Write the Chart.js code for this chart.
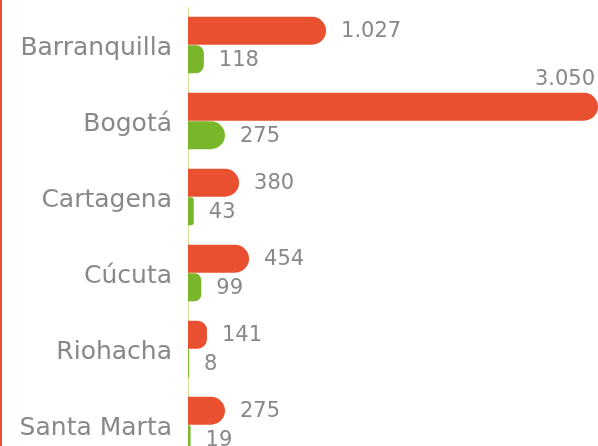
<!DOCTYPE html>
<html>
<head>
<meta charset="utf-8">
<script src="https://cdn.jsdelivr.net/npm/chart.js@4.4.1/dist/chart.umd.min.js"></script>
<style>
    html, body { margin: 0; padding: 0; background: #fff; }
    #wrap { position: relative; width: 598px; height: 446px; overflow: hidden; }
    #edge { position: absolute; left: 0; top: 0; width: 2px; height: 446px; background: #e9502f; z-index: 2; }
    #box { position: absolute; left: 0; top: 0; width: 598px; height: 463px; }
</style>
</head>
<body>
<div id="wrap">
    <div id="edge"></div>
    <div id="box"><canvas id="chart"></canvas></div>
</div>
<script>
// Datos por ciudad
const ciudades = ['Barranquilla', 'Bogotá', 'Cartagena', 'Cúcuta', 'Riohacha', 'Santa Marta'];
const serieRoja = [1027, 3050, 380, 454, 141, 275];
const serieVerde = [118, 275, 43, 99, 8, 19];

const ROJO = '#e9502f';
const VERDE = '#7ab62a';
const GRIS = '#888888';
const FUENTE = "'DejaVu Sans', sans-serif";

// separador de miles con punto
function formato(v) {
    return String(v).replace(/\B(?=(\d{3})+(?!\d))/g, '.');
}

// Etiquetas de valor al final de cada barra
const etiquetas = {
    id: 'etiquetas',
    afterDatasetsDraw(chart) {
        const ctx = chart.ctx;
        const xs = chart.scales.x;
        ctx.save();
        ctx.font = '21px ' + FUENTE;
        ctx.fillStyle = GRIS;
        chart.data.datasets.forEach((ds, i) => {
            chart.getDatasetMeta(i).data.forEach((bar, j) => {
                const txt = formato(ds.data[j]);
                const w = ctx.measureText(txt).width;
                let x = xs.getPixelForValue(ds.data[j]) + 15;
                if (x + w > chart.width) {
                    // no cabe: encima de la barra, alineado a la derecha
                    ctx.textAlign = 'right';
                    ctx.textBaseline = 'alphabetic';
                    ctx.fillText(txt, chart.width - 3, bar.y - bar.height / 2 - 8);
                } else {
                    ctx.textAlign = 'left';
                    ctx.textBaseline = 'middle';
                    ctx.fillText(txt, x, bar.y + 1);
                }
            });
        });
        ctx.restore();
    }
};

new Chart(document.getElementById('chart'), {
    type: 'bar',
    data: {
        labels: ciudades,
        datasets: [{
            data: serieRoja,
            backgroundColor: ROJO,
            borderRadius: 14,
            borderSkipped: 'start'
        }, {
            data: serieVerde,
            backgroundColor: VERDE,
            borderRadius: 14,
            borderSkipped: 'start'
        }]
    },
    options: {
        indexAxis: 'y',
        responsive: true,
        maintainAspectRatio: false,
        animation: false,
        categoryPercentage: 0.75,
        barPercentage: 0.98,
        layout: { padding: { top: 7, right: 0, bottom: 0, left: 0 } },
        plugins: {
            legend: { display: false },
            tooltip: { enabled: false }
        },
        scales: {
            x: {
                display: false,
                min: 0,
                max: 3050
            },
            y: {
                grid: { display: false },
                border: { display: true, color: '#d3e28f', width: 1 },
                ticks: {
                    color: GRIS,
                    padding: 8,
                    labelOffset: 3,
                    font: { family: FUENTE, size: 25 }
                },
                afterFit(scale) {
                    scale.width = 188;
                    scale.paddingTop = 0;
                    scale.paddingBottom = 0;
                }
            }
        }
    },
    plugins: [etiquetas]
});
</script>
</body>
</html>
